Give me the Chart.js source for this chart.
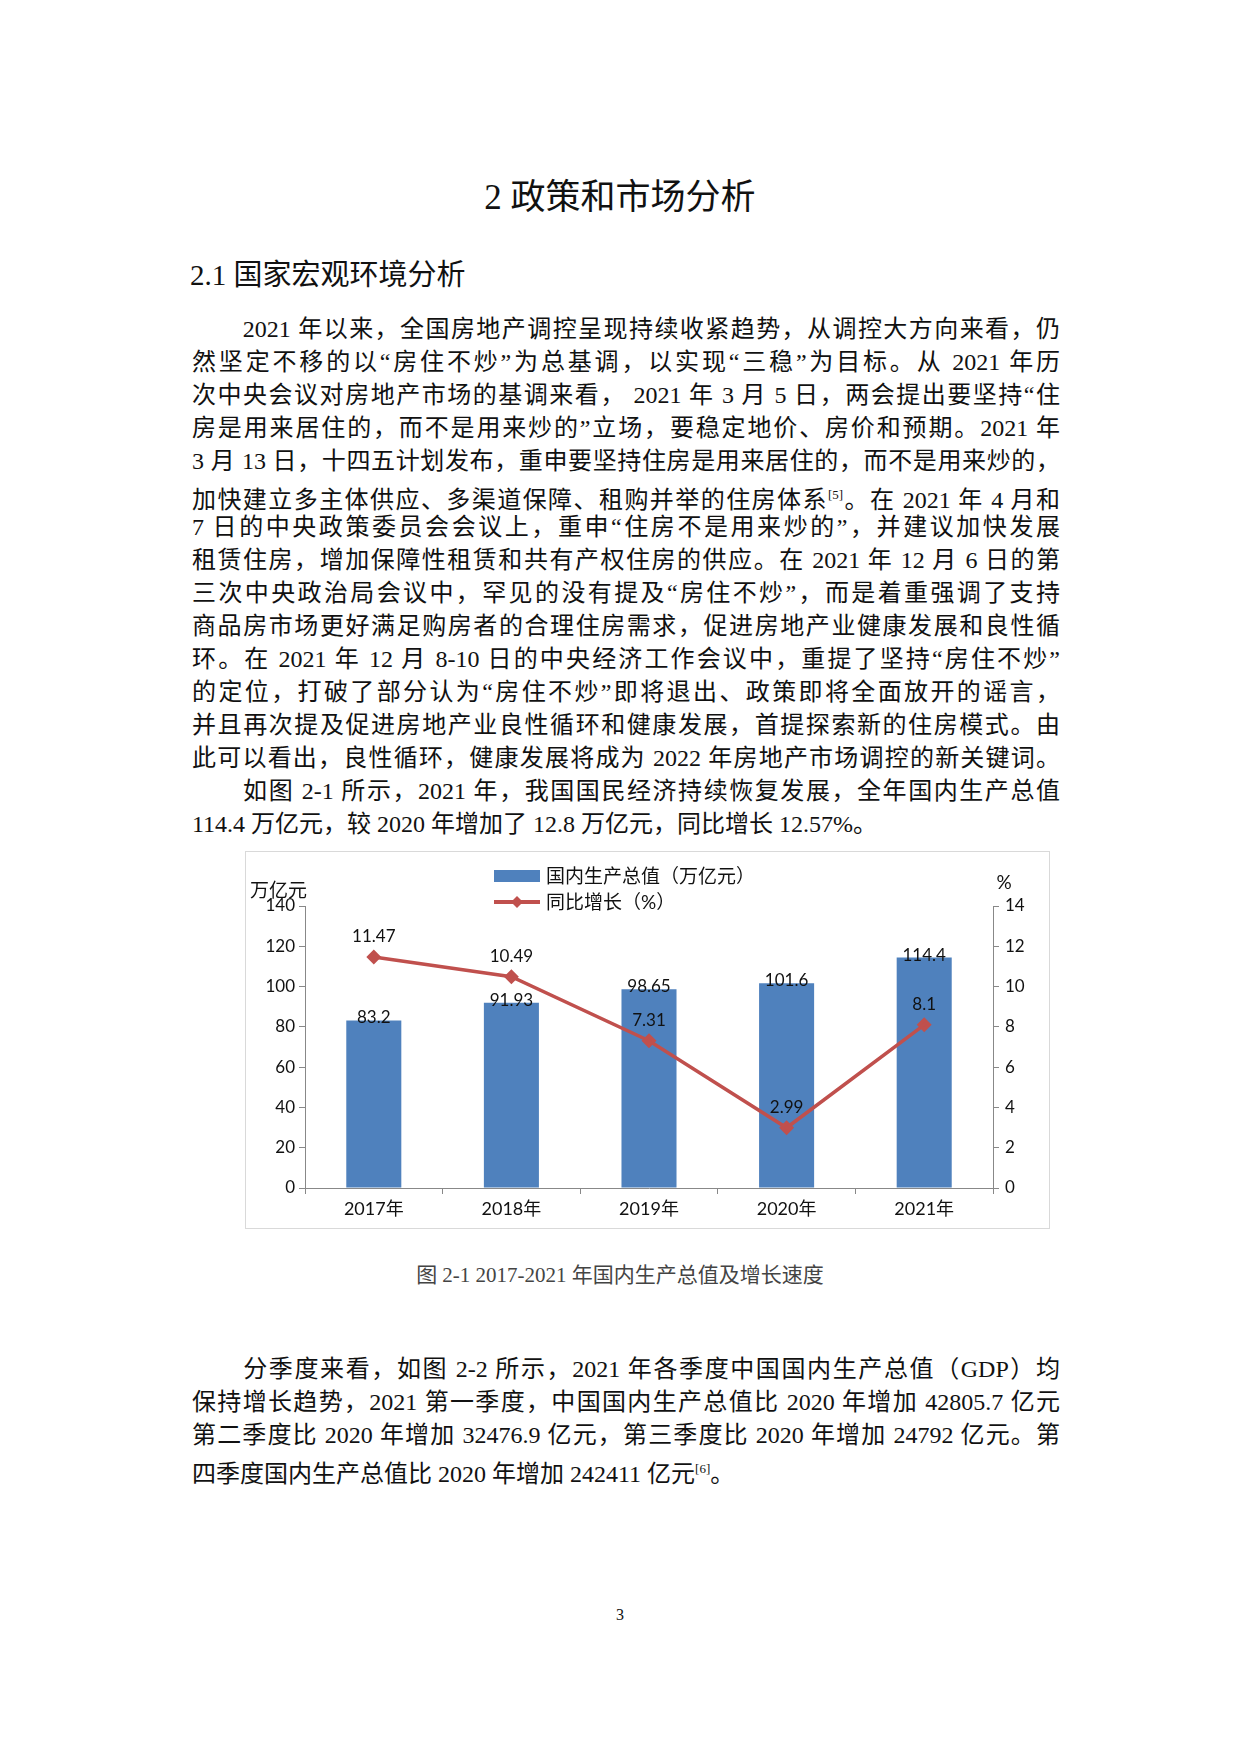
<!DOCTYPE html>
<html><head><meta charset="utf-8">
<script src="https://cdn.jsdelivr.net/npm/chart.js@4/dist/chart.umd.min.js"></script>
<style>
body{margin:0;width:1240px;height:1754px;background:#fff;position:relative;font-family:"Liberation Serif","Noto Sans CJK SC",serif;color:#111;}
.abs{position:absolute;}
.ln{position:absolute;left:192px;width:868px;font-size:24px;line-height:33px;height:33px;text-align:justify;text-align-last:justify;white-space:nowrap;overflow:visible;}
.ln.last{text-align-last:left;}
sup{font-size:13px;}
#box{position:absolute;left:245px;top:851px;width:803px;height:376px;border:1px solid #d9d9d9;}
</style></head><body>
<div class="abs" style="left:0;width:1240px;top:168px;text-align:center;font-size:35px;">2 政策和市场分析</div>
<div class="abs" style="left:190px;top:251px;font-size:29px;">2.1 国家宏观环境分析</div>
<div id="p1"></div>
<div id="box"><canvas id="c" width="803" height="376"></canvas></div>
<div class="abs" style="left:0;width:1240px;top:1258px;text-align:center;font-size:21px;color:#444;">图 2-1 2017-2021 年国内生产总值及增长速度</div>
<div class="abs" style="left:0;width:1240px;top:1606px;text-align:center;font-size:16px;">3</div>
<script>
const lines1=[
["　　2021 年以来，全国房地产调控呈现持续收紧趋势，从调控大方向来看，仍",0],
["然坚定不移的以“房住不炒”为总基调，以实现“三稳”为目标。从 2021 年历",0],
["次中央会议对房地产市场的基调来看， 2021 年 3 月 5 日，两会提出要坚持“住",0],
["房是用来居住的，而不是用来炒的”立场，要稳定地价、房价和预期。2021 年",0],
["3 月 13 日，十四五计划发布，重申要坚持住房是用来居住的，而不是用来炒的，",0],
["加快建立多主体供应、多渠道保障、租购并举的住房体系<sup>[5]</sup>。在 2021 年 4 月和",0],
["7 日的中央政策委员会会议上，重申“住房不是用来炒的”，并建议加快发展",0],
["租赁住房，增加保障性租赁和共有产权住房的供应。在 2021 年 12 月 6 日的第",0],
["三次中央政治局会议中，罕见的没有提及“房住不炒”，而是着重强调了支持",0],
["商品房市场更好满足购房者的合理住房需求，促进房地产业健康发展和良性循",0],
["环。在 2021 年 12 月 8-10 日的中央经济工作会议中，重提了坚持“房住不炒”",0],
["的定位，打破了部分认为“房住不炒”即将退出、政策即将全面放开的谣言，",0],
["并且再次提及促进房地产业良性循环和健康发展，首提探索新的住房模式。由",0],
["此可以看出，良性循环，健康发展将成为 2022 年房地产市场调控的新关键词。",0],
["　　如图 2-1 所示，2021 年，我国国民经济持续恢复发展，全年国内生产总值",0],
["114.4 万亿元，较 2020 年增加了 12.8 万亿元，同比增长 12.57%。",1]];
const lines2=[
["　　分季度来看，如图 2-2 所示，2021 年各季度中国国内生产总值（GDP）均",0],
["保持增长趋势，2021 第一季度，中国国内生产总值比 2020 年增加 42805.7 亿元",0],
["第二季度比 2020 年增加 32476.9 亿元，第三季度比 2020 年增加 24792 亿元。第",0],
["四季度国内生产总值比 2020 年增加 242411 亿元<sup>[6]</sup>。",1]];
let h='';
lines1.forEach((l,i)=>{h+=`<div class="ln${l[1]?' last':''}" style="top:${313+i*33}px">${l[0]}</div>`;});
lines2.forEach((l,i)=>{h+=`<div class="ln${l[1]?' last':''}" style="top:${1353+i*33}px">${l[0]}</div>`;});
document.getElementById('p1').innerHTML=h;

const categories=['2017年','2018年','2019年','2020年','2021年'];
const gdpValues=[83.2,91.93,98.65,101.6,114.4];
const growthValues=[11.47,10.49,7.31,2.99,8.1];
const leftTicks=[0,20,40,60,80,100,120,140];
const rightTicks=[0,2,4,6,8,10,12,14];
const F='Lato,"Noto Sans CJK SC",sans-serif';

const extras={id:'extras',afterDatasetsDraw(ch){
 const c=ch.ctx;c.save();c.fillStyle='#111';c.font='17px '+F;c.textAlign='center';c.textBaseline='bottom';
 const m0=ch.getDatasetMeta(0),m1=ch.getDatasetMeta(1);
 m0.data.forEach((b,i)=>c.fillText(String(gdpValues[i]),b.x,b.y+6));
 m1.data.forEach((p,i)=>c.fillText(String(growthValues[i]),p.x,p.y-12));
 c.font='19px '+F;c.textAlign='left';c.fillText('万亿元',4,48);
 c.textAlign='center';c.fillText('%',ch.chartArea.right+11,40);
 // legend
 c.fillStyle='#4f81bd';c.fillRect(248,18,46,12);
 c.strokeStyle='#c0504d';c.lineWidth=4;c.beginPath();c.moveTo(248,50);c.lineTo(294,50);c.stroke();
 c.fillStyle='#c0504d';c.beginPath();c.moveTo(271,44);c.lineTo(277,50);c.lineTo(271,56);c.lineTo(265,50);c.closePath();c.fill();
 c.fillStyle='#111';c.textAlign='left';c.textBaseline='middle';c.font='19px '+F;
 c.fillText('国内生产总值（万亿元）',300,25);c.fillText('同比增长（%）',300,51);
 c.restore();}};

new Chart(document.getElementById('c'),{
 data:{labels:categories,datasets:[
  {type:'bar',data:gdpValues,backgroundColor:'#4f81bd',yAxisID:'y',categoryPercentage:1,barPercentage:0.4,order:2},
  {type:'line',data:growthValues,borderColor:'#c0504d',backgroundColor:'#c0504d',borderWidth:3.5,pointStyle:'rectRot',pointRadius:5,yAxisID:'y1',order:1}]},
 options:{responsive:false,animation:false,layout:{padding:{top:54,left:0,right:0,bottom:0}},
  plugins:{legend:{display:false},tooltip:{enabled:false}},
  scales:{
   x:{offset:true,grid:{offset:true,drawOnChartArea:false,color:'#888',tickLength:6},border:{color:'#888'},
      ticks:{color:'#111',font:{size:18,family:F},padding:4},afterFit(s){s.height=40;}},
   y:{position:'left',min:0,max:140,afterBuildTicks(s){s.ticks=leftTicks.map(v=>({value:v}));},
      grid:{drawOnChartArea:false,color:'#888',tickLength:6},border:{color:'#888'},
      ticks:{color:'#111',font:{size:17,family:F},padding:4},afterFit(s){s.width=59;}},
   y1:{position:'right',min:0,max:14,afterBuildTicks(s){s.ticks=rightTicks.map(v=>({value:v}));},
      grid:{drawOnChartArea:false,color:'#888',tickLength:6},border:{color:'#888'},
      ticks:{color:'#111',font:{size:17,family:F},padding:6},afterFit(s){s.width=56;}}}},
 plugins:[extras]});
</script></body></html>
